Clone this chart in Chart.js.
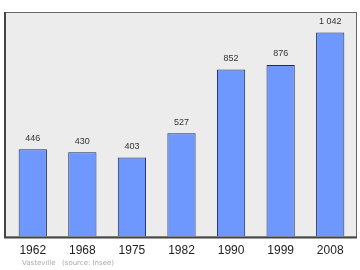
<!DOCTYPE html>
<html><head><meta charset="utf-8">
<script src="https://cdn.jsdelivr.net/npm/chart.js@4/dist/chart.umd.min.js"></script>
<style>html,body{margin:0;padding:0;background:#fff}#c{display:block}</style>
</head><body>
<div style="width:360px;height:270px"><canvas id="c" width="360" height="270"></canvas></div>
<script>
const years = ["1962","1968","1975","1982","1990","1999","2008"];
const population = [446, 430, 403, 527, 852, 876, 1042];
const valueLabels = ["446","430","403","527","852","876","1 042"];
const footerText = ["Vasteville", "(source: Insee)"];

const framePlugin = {
  id: 'frame',
  beforeDraw(chart) {
    const {ctx, chartArea: a} = chart;
    const l = a.left - 4, r = a.right + 2, t = a.top, b = a.bottom;
    ctx.save();
    ctx.fillStyle = '#ececec';
    ctx.fillRect(l, t, r - l, b - t);
    ctx.strokeStyle = '#666';
    ctx.lineWidth = 1;
    ctx.strokeRect(l + 0.5, t + 0.5, r - l - 1, b - t);
    ctx.strokeStyle = '#444';
    ctx.lineWidth = 2;
    ctx.beginPath();
    ctx.moveTo(l + 1, t); ctx.lineTo(l + 1, b + 1); ctx.lineTo(r, b + 1);
    ctx.stroke();
    ctx.restore();
  },
  afterDatasetsDraw(chart) {
    const {ctx} = chart;
    const meta = chart.getDatasetMeta(0);
    ctx.save();
    ctx.font = '9px "Liberation Sans", Arial, sans-serif';
    ctx.fillStyle = '#333';
    ctx.textAlign = 'center';
    ctx.textBaseline = 'middle';
    meta.data.forEach((bar, i) => {
      ctx.fillText(valueLabels[i], bar.x, bar.y - 11);
    });
    ctx.font = '7px "DejaVu Sans", sans-serif';
    ctx.fillStyle = '#aaa';
    ctx.textAlign = 'left';
    ctx.fillText(footerText[0], 22, 263);
    ctx.fillText(footerText[1], 62, 263);
    ctx.restore();
  }
};

new Chart(document.getElementById('c'), {
  type: 'bar',
  data: {
    labels: years,
    datasets: [{
      data: population,
      backgroundColor: '#6f98ff',
      borderColor: '#1c2a5e',
      borderWidth: 1,
      categoryPercentage: 1,
      barPercentage: 0.57
    }]
  },
  options: {
    responsive: false,
    animation: false,
    events: [],
    layout: {padding: {left: 8, right: 5, top: 12, bottom: 5}},
    plugins: {legend: {display: false}, tooltip: {enabled: false}},
    scales: {
      x: {
        grid: {display: false, drawTicks: false},
        border: {display: false},
        ticks: {color: '#222', padding: 7, font: {size: 12, family: '"Liberation Sans", Arial, sans-serif'}}
      },
      y: {display: false, min: 0, max: 1146}
    }
  },
  plugins: [framePlugin]
});
</script>
</body></html>
